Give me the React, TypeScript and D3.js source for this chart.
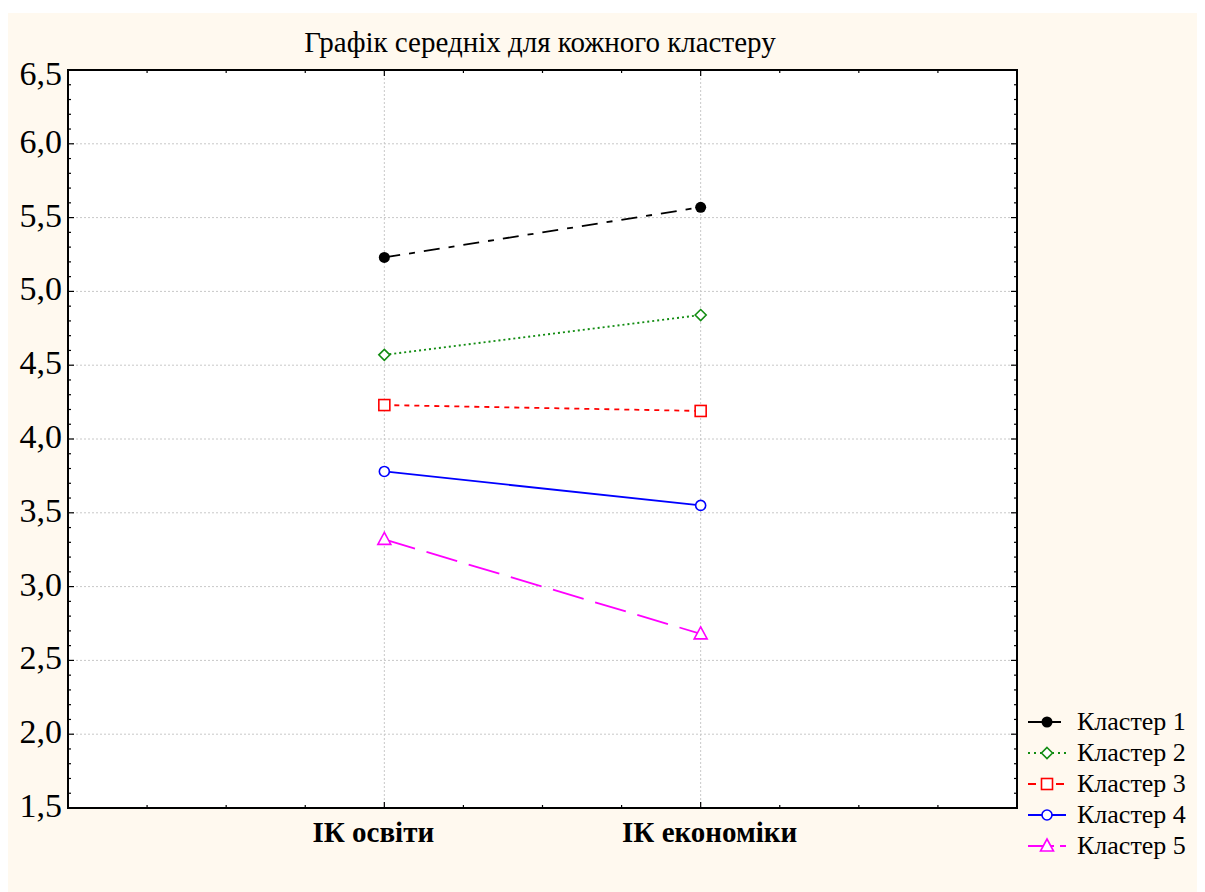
import * as d3 from "d3";
import { useEffect, useRef } from "react";

const categories = ["ІК освіти", "ІК економіки"];
const seriesNames = ["Кластер 1", "Кластер 2", "Кластер 3", "Кластер 4", "Кластер 5"];
const cluster1 = [5.23, 5.57];
const cluster2 = [4.57, 4.84];
const cluster3 = [4.23, 4.19];
const cluster4 = [3.78, 3.55];
const cluster5 = [3.32, 2.68];
const yTicks = [1.5, 2.0, 2.5, 3.0, 3.5, 4.0, 4.5, 5.0, 5.5, 6.0, 6.5];

const styles = [
  { color: "#000000", dash: "16 9 6 9", legendDash: "14 5", marker: "dot" },
  { color: "#128c12", dash: "2 3", legendDash: "2 4", marker: "diamond" },
  { color: "#ff0000", dash: "5 5", legendDash: "8 6", marker: "square" },
  { color: "#0000ff", dash: null, legendDash: null, marker: "circle" },
  { color: "#ff00ff", dash: "32 12", legendDash: "26 6", marker: "triangle" },
];

export default function App() {
  const ref = useRef<SVGSVGElement>(null);

  useEffect(() => {
    const svg = d3.select(ref.current);
    svg.selectAll("*").remove();

    const W = 1197, H = 879;
    const font = "'Liberation Serif', 'Times New Roman', serif";
    const series = [cluster1, cluster2, cluster3, cluster4, cluster5];

    svg.append("rect").attr("width", W).attr("height", H).attr("fill", "#fff9ef");

    const left = 60, top = 57, right = 1009, bottom = 795;
    const x = d3.scaleLinear().domain([0, 3]).range([left, right]);
    const y = d3.scaleLinear().domain([1.5, 6.5]).range([bottom, top]);

    svg.append("rect")
      .attr("x", left).attr("y", top)
      .attr("width", right - left).attr("height", bottom - top)
      .attr("fill", "#fff");

    // dotted grid
    const grid = svg.append("g").attr("stroke", "#c8c8c8").attr("stroke-dasharray", "2 2");
    yTicks.slice(1, -1).forEach((t) => {
      grid.append("line").attr("x1", left).attr("x2", right)
        .attr("y1", y(t)).attr("y2", y(t));
    });
    categories.forEach((_, i) => {
      grid.append("line").attr("x1", x(i + 1)).attr("x2", x(i + 1))
        .attr("y1", top).attr("y2", bottom);
    });

    // ticks on all four sides
    const ticks = svg.append("g").attr("stroke", "#000").attr("stroke-width", 1.2);
    d3.range(15, 66).forEach((k) => {
      const v = k / 10;
      const len = k % 5 === 0 ? 6 : 3;
      ticks.append("line").attr("x1", left).attr("x2", left + len).attr("y1", y(v)).attr("y2", y(v));
      ticks.append("line").attr("x1", right).attr("x2", right - len).attr("y1", y(v)).attr("y2", y(v));
    });
    d3.range(1, 12).forEach((k) => {
      const v = k / 4;
      const len = k % 4 === 0 ? 6 : 3;
      ticks.append("line").attr("x1", x(v)).attr("x2", x(v)).attr("y1", top).attr("y2", top + len);
      ticks.append("line").attr("x1", x(v)).attr("x2", x(v)).attr("y1", bottom).attr("y2", bottom - len);
    });

    svg.append("rect")
      .attr("x", left).attr("y", top)
      .attr("width", right - left).attr("height", bottom - top)
      .attr("fill", "none").attr("stroke", "#000").attr("stroke-width", 2);

    // y labels
    yTicks.forEach((t) => {
      svg.append("text")
        .attr("x", left - 6).attr("y", Math.max(y(t) + 9, top + 15))
        .attr("text-anchor", "end")
        .attr("font-family", font).attr("font-size", 34)
        .attr("fill", "#000")
        .text(d3.format(".1f")(t).replace(".", ","));
    });

    // category labels (spread slightly apart, as in the original)
    categories.forEach((c, i) => {
      svg.append("text")
        .attr("x", x(i + 1)).attr("dx", i === 0 ? -11 : 9).attr("y", bottom + 34)
        .attr("text-anchor", "middle")
        .attr("font-family", font).attr("font-size", 29).attr("font-weight", "bold")
        .text(c);
    });

    // title
    svg.append("text")
      .attr("x", 532).attr("y", 39)
      .attr("text-anchor", "middle")
      .attr("font-family", font).attr("font-size", 29)
      .text("Графік середніх для кожного кластеру");

    const drawMarker = (g: any, kind: string, cx: number, cy: number, color: string) => {
      if (kind === "dot") {
        g.append("circle").attr("cx", cx).attr("cy", cy).attr("r", 5.5).attr("fill", color);
      } else if (kind === "circle") {
        g.append("circle").attr("cx", cx).attr("cy", cy).attr("r", 5)
          .attr("fill", "#fff").attr("stroke", color).attr("stroke-width", 1.6);
      } else if (kind === "square") {
        g.append("rect").attr("x", cx - 5.5).attr("y", cy - 5.5).attr("width", 11).attr("height", 11)
          .attr("fill", "#fff").attr("stroke", color).attr("stroke-width", 1.6);
      } else if (kind === "diamond") {
        g.append("path")
          .attr("d", `M${cx},${cy - 5.5}L${cx + 5.5},${cy}L${cx},${cy + 5.5}L${cx - 5.5},${cy}Z`)
          .attr("fill", "#fff").attr("stroke", color).attr("stroke-width", 1.6);
      } else {
        g.append("path")
          .attr("d", `M${cx},${cy - 7}L${cx + 6.5},${cy + 5}L${cx - 6.5},${cy + 5}Z`)
          .attr("fill", "#fff").attr("stroke", color).attr("stroke-width", 1.6);
      }
    };

    const line = d3.line<number>().x((_, i) => x(i + 1)).y((d) => y(d));

    series.forEach((vals, s) => {
      const st = styles[s];
      const g = svg.append("g");
      g.append("path")
        .attr("d", line(vals))
        .attr("fill", "none").attr("stroke", st.color).attr("stroke-width", 1.8)
        .attr("stroke-dasharray", st.dash);
      vals.forEach((v, i) => drawMarker(g, st.marker, x(i + 1), y(v), st.color));
    });

    // legend
    seriesNames.forEach((name, s) => {
      const st = styles[s];
      const ly = 709 + s * 31;
      const g = svg.append("g");
      g.append("line").attr("x1", 1020).attr("x2", 1058).attr("y1", ly).attr("y2", ly)
        .attr("stroke", st.color).attr("stroke-width", 1.8)
        .attr("stroke-dasharray", st.legendDash);
      drawMarker(g, st.marker, 1039, ly, st.color);
      g.append("text").attr("x", 1069).attr("y", ly + 8)
        .attr("font-family", font).attr("font-size", 26)
        .text(name);
    });
  }, []);

  return (
    <div style={{ paddingTop: 5 }}>
      <svg ref={ref} width={1197} height={879} style={{ display: "block" }} />
    </div>
  );
}
